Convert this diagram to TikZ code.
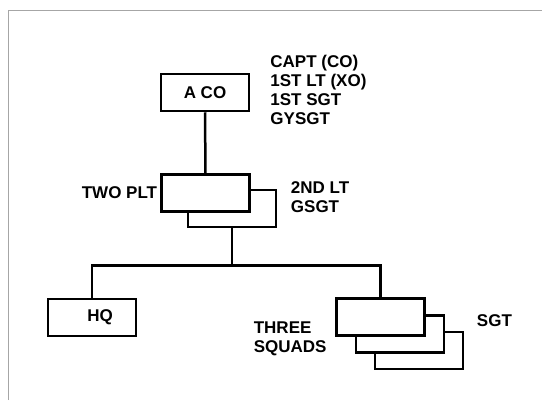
\documentclass[tikz,border=0pt]{standalone}
\usepackage{fontspec}
\setmainfont{Liberation Sans}
\usetikzlibrary{positioning}

\begin{document}
\begin{tikzpicture}[
  x=1pt, y=-1pt,
  every node/.style={font=\fontsize{17}{19}\selectfont\bfseries},
  unit/.style={draw, fill=white, line width=2.5pt, minimum width=88pt, minimum height=37pt, inner sep=0pt},
  lbl/.style={align=left, inner sep=0pt},
  link/.style={line width=2.5pt}
]
\useasboundingbox (0,0) rectangle (542,400);
\draw[gray!70, line width=1pt] (8,400) -- (8,10) -- (542,10);

% Company
\node [unit] (aco) at (205,92.5) {A CO};
\node [lbl, right=20pt of aco, yshift=3pt] (acolbl) {CAPT (CO)\\1ST LT (XO)\\1ST SGT\\GYSGT};

% Platoons
\node [unit] (pltback) at (232,208.5) {};
\node [unit] (plt) at (205.5,193) {};
\node [lbl, left=3pt of plt] (pltname) {TWO PLT};
\node [lbl, right=40pt of plt, yshift=-4pt] (pltlbl) {2ND LT\\GSGT};

\draw[link] (aco) -- (plt);
\draw[link] (pltback.south) -- ++(0,-37pt) coordinate (split);

% Headquarters
\node [unit] (hq) at (92,317.5) {\hspace*{16pt}HQ};

% Squads
\node [unit] (sqdc) at (419,350.5) {};
\node [unit] (sqdb) at (400,334) {};
\node [unit] (sqd) at (380.5,317) {};
\node [lbl, left=28pt of sqdb, yshift=-5pt] (sqdname) {THREE\\SQUADS};
\node [lbl, right=51pt of sqd, yshift=-4pt] (sqdlbl) {SGT};

\draw[link] (hq.north) |- (split) -| (sqd.north);
\end{tikzpicture}
\end{document}
